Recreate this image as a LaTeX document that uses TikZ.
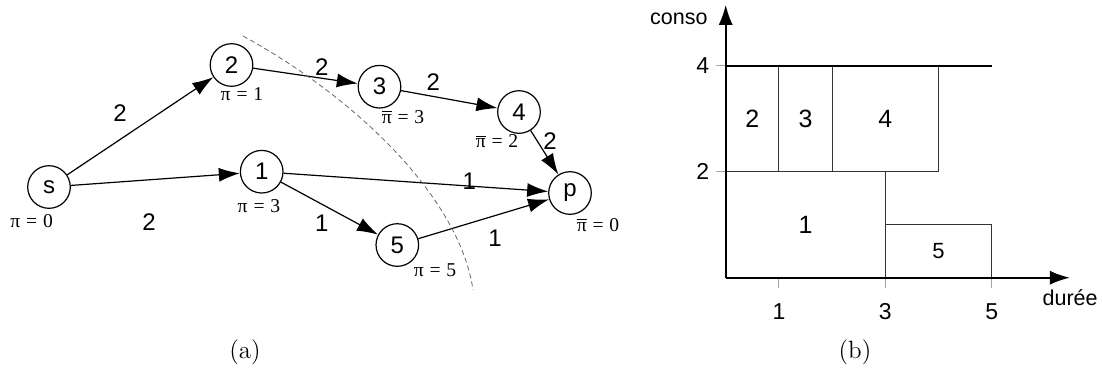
\documentclass[tikz,border=0pt]{standalone}
\usepackage{fontspec}
\usepackage{tikz}
\usetikzlibrary{arrows.meta,positioning,calc}
\newfontfamily\arialfont{Liberation Sans}
\newfontfamily\timesfont{Liberation Serif}
\def\nodesize{21.3pt}
\def\chartx{26.6pt}
\def\charty{26.5pt}
\def\ticklength{5pt}
\newcommand{\pibar}{\ensuremath{\overline{\hbox{π}}}}
\newcommand{\eqsign}{\hspace{0.3em}=\hspace{0.3em}}

\tikzset{
  vertex/.style={draw, circle, minimum size=\nodesize, inner sep=0pt, line width=0.6pt,
    font=\arialfont\fontsize{12}{14}\selectfont},
  weight/.style={font=\arialfont\fontsize{12}{14}\selectfont},
  potential/.style={font=\timesfont\fontsize{9.8}{11}\selectfont, inner sep=0pt},
  arc/.style={-{Latex[length=10.5pt,width=7pt]}, line width=0.6pt},
  cut/.style={gray!80!black, line width=0.4pt, dash pattern=on 2.5pt off 1.6pt},
  task/.style={draw=black!80, line width=0.5pt},
  tasklabel/.style={font=\arialfont\fontsize{12.5}{14}\selectfont},
  ticklabel/.style={font=\arialfont\fontsize{11.5}{13}\selectfont},
  axis/.style={-{Latex[length=10pt,width=7pt]}, line width=1pt},
  tick/.style={gray!70, line width=0.5pt},
  axislabel/.style={font=\arialfont\fontsize{10.75}{12}\selectfont, inner sep=0pt},
  caption/.style={font=\fontsize{12.5}{15}\selectfont}
}

\begin{document}
\begin{tikzpicture}[x=0.5pt, y=-0.5pt]
  \useasboundingbox (0,0) rectangle (1102,372);

  % graph (a)
  \node[vertex] (s)  at (49,187)    {s};
  \node[vertex] (n2) at (231.5,65)  {2};
  \node[vertex] (n3) at (379.5,86.7) {3};
  \node[vertex] (n4) at (519,112)   {4};
  \node[vertex] (n1) at (261.7,171.7) {1};
  \node[vertex] (n5) at (397.3,245) {5};
  \node[vertex] (p)  at (570,193)   {p};

  \draw[arc] (s) -- (n2);
  \draw[arc] (s) -- (n1);
  \draw[arc] (n2) -- (n3);
  \draw[arc] (n3) -- (n4);
  \draw[arc] (n4) -- (p);
  \draw[arc] (n1) -- (p);
  \draw[arc] (n1) -- (n5);
  \draw[arc] (n5) -- (p);

  \node[weight] (w-s2)  at (120,113)   {2};
  \node[weight] (w-s1)  at (149,222)   {2};
  \node[weight] (w-23)  at (321.7,66.7) {2};
  \node[weight] (w-34)  at (433.3,81.7) {2};
  \node[weight] (w-4p)  at (550,141)   {2};
  \node[weight] (w-1p)  at (469.3,181.7) {1};
  \node[weight] (w-15)  at (321.7,223.3) {1};
  \node[weight] (w-5p)  at (495,238.3) {1};

  \node[potential] (pi-s)  at (31.7,221)  {π\eqsign 0};
  \node[potential] (pi-2)  at (242,94.5)  {π\eqsign 1};
  \node[potential] (pi-3)  at (403,117)   {\pibar\eqsign 3};
  \node[potential] (pi-4)  at (497,141.5) {\pibar\eqsign 2};
  \node[potential] (pi-1)  at (259,206)   {π\eqsign 3};
  \node[potential] (pi-5)  at (435,270)   {π\eqsign 5};
  \node[potential] (pi-p)  at (598,225)   {\pibar\eqsign 0};

  \draw[cut] (243,36) .. controls (360,100) and (460,200) .. (473,290);

  \node[caption] (cap-a) at (245,352) {(a)};

  % chart (b)
  \begin{scope}[shift={(725.7,277.7)}, x=\chartx, y=\charty]
    \coordinate (O) at (0,0);

    \draw[task] (0,0) rectangle (3,2) coordinate (R1);
    \draw[task] (3,0) rectangle (5,1) coordinate (R5);
    \draw[task] (0,2) rectangle (1,4) coordinate (R2);
    \draw[task] (1,2) rectangle (2,4) coordinate (R3);
    \draw[task] (2,2) rectangle (4,4) coordinate (R4);

    \node[tasklabel] (t1) at (1.5,1)  {1};
    \node[tasklabel] (t2) at (0.5,3)  {2};
    \node[tasklabel] (t3) at (1.5,3)  {3};
    \node[tasklabel] (t4) at (3,3)    {4};
    \node[tasklabel, font=\arialfont\fontsize{11}{13}\selectfont] (t5) at (4,0.5) {5};

    \draw[line width=1pt] (0,4) -- (5,4);

    \foreach \i in {1,3,5} {
      \draw[tick] (\i,0) -- ++(0,-\ticklength);
      \node[ticklabel] (xl\i) at (\i,-0.647) {\i};
    }
    \foreach \j in {2,4} {
      \draw[tick] (0,\j) -- ++(-\ticklength,0);
      \node[ticklabel] (yl\j) at (-0.43,\j) {\j};
    }

    \draw[axis] (O) -- (6.47,0) coordinate (xend);
    \draw[axis] (O) -- (0,5.15) coordinate (yend);

    \node[axislabel, anchor=east] (conso) at (-0.333,4.88) {conso};
    \node[axislabel, anchor=west] (duree) at (5.95,-0.38) {durée};
  \end{scope}

  \node[caption] (cap-b) at (855,352) {(b)};
\end{tikzpicture}
\end{document}
